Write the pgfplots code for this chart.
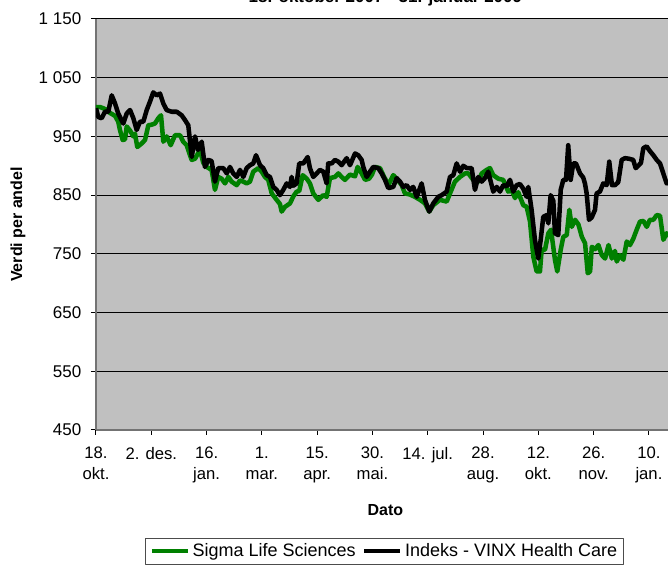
\documentclass[border=0pt]{standalone}
\usepackage{pgfplots}
\pgfplotsset{compat=1.18}
\usepackage{fontspec}
\setmainfont{Liberation Sans}
\definecolor{plotbg}{HTML}{C0C0C0}
\definecolor{sigmagreen}{HTML}{008000}
\begin{document}
\begin{tikzpicture}
\begin{axis}[
  name=ax,
  scale only axis,
  width=429pt, height=308.25pt,
  xmin=0, xmax=465.5, ymin=450, ymax=1150,
  axis lines=left,
  axis line style={-, draw=black!55, line width=1.5pt},
  axis background/.style={fill=plotbg},
  tick align=outside,
  major tick length=3.75pt,
  tick style={black, line width=0.75pt},
  ymajorgrids,
  major grid style={black, line width=0.75pt},
  ytick={450,550,650,750,850,950,1050,1150},
  yticklabels={450,550,650,750,850,950,{1 050},{1 150}},
  xtick={0,45,90,135,180,225,270,315,360,405,450},
  xticklabels={{18.\\okt.},{2. des.},{16.\\jan.},{1.\\mar.},{15.\\apr.},{30.\\mai.},{14. jul.},{28.\\aug.},{12.\\okt.},{26.\\nov.},{10.\\jan.}},
  xticklabel style={align=center, font=\fontsize{12.5}{15.75}\selectfont, yshift=-5.5pt},
  yticklabel style={font=\fontsize{12.75}{15}\selectfont, xshift=-3.75pt},
  xlabel={Dato},
  ylabel={Verdi per andel},
  xlabel style={at={(axis description cs:0.506,0)}, anchor=center, yshift=-60pt, font=\fontsize{12}{14}\selectfont\bfseries},
  ylabel style={at={(axis description cs:-0.1364,0.5)}, anchor=center, font=\fontsize{12}{14}\selectfont\bfseries},
  title={18. oktober 2007 - 31. januar 2009},
  title style={at={(axis description cs:0.506,1)}, anchor=base, yshift=6pt, font=\fontsize{12.75}{15}\selectfont\bfseries},
  legend columns=-1,
  legend style={at={(axis description cs:0.505,0)}, anchor=north, yshift=-81pt,
    draw=black!70, line width=0.75pt, fill=white,
    font=\fontsize{13.5}{16}\selectfont,
    /tikz/every even column/.append style={column sep=3pt},
    inner xsep=3pt, inner ysep=2pt},
  legend image code/.code={\draw[#1, line width=3pt] (0pt,0pt) -- (27pt,0pt);},
  line join=round,
]
\addplot[sigmagreen, line width=3.4pt] coordinates {
(0,1000) (3.3,1000) (5.9,998) (9.0,995) (11.4,990) (15.5,985) (18.1,975) (19.5,961)
(21.7,944) (23.6,945) (25.0,967) (27.7,960) (30.4,950) (31.7,955) (33.6,932) (37.2,938)
(39.9,944) (42.6,969) (45.3,970) (48.0,972) (50.7,981) (52.9,986) (54.8,941) (57.5,950)
(60.8,935) (64.3,952) (68.4,952) (71.0,941) (73.8,935) (76.5,918) (77.9,910) (80.6,912)
(84.6,927) (87.3,905) (90.1,898) (94.1,893) (96.8,859) (99.5,881) (102.2,878) (105.0,870)
(107.7,881) (110.4,873) (114.5,867) (117.2,875) (119.9,873) (122.6,870) (125.3,873) (128.0,890)
(132.1,896) (134.8,890) (137.5,881) (140.2,876) (143.0,853) (147.0,842) (149.7,835) (151.1,822)
(153.8,830) (157.9,836) (160.6,848) (163.3,856) (165.4,857) (168.2,884) (171.5,878) (174.1,870)
(176.8,853) (180.9,842) (185.0,850) (187.7,847) (190.4,879) (194.5,881) (197.2,887) (199.9,881)
(202.6,876) (206.7,885) (210.8,882) (212.9,898) (216.2,887) (219.0,876) (222.2,878) (224.6,885)
(227.0,898) (231.1,896) (233.8,884) (237.9,867) (241.9,884) (244.7,878) (248.8,867) (251.4,853)
(255.5,851) (259.6,847) (263.7,842) (267.7,836) (271.2,822) (274.5,833) (279.9,842) (285.4,839)
(288.1,853) (292.1,873) (296.2,881) (300.3,887) (303.0,887) (307.0,876) (311.1,873) (313.9,887)
(317.9,893) (320.6,896) (323.3,884) (327.4,878) (331.4,876) (335.5,856) (338.2,859) (341.0,845)
(343.6,855) (347.7,833) (350.5,830) (353.2,805) (355.9,745) (358.6,720) (361.3,720) (362.7,757)
(365.4,757) (368.1,785) (370.3,791) (373.5,740) (375.4,720) (378.2,757) (380.3,779) (383.1,782)
(385.2,825) (387.2,796) (389.9,808) (392.6,800) (395.4,779) (398.0,768) (400.2,717) (402.1,720)
(403.5,762) (406.1,758) (408.9,765) (411.6,748) (414.3,742) (417.1,765) (419.8,742) (422.3,755)
(423.8,737) (426.5,748) (429.2,740) (431.9,771) (434.6,765) (437.3,776) (440.0,791) (442.7,805)
(445.5,806) (448.2,796) (450.8,808) (453.6,808) (456.3,816) (459.0,815) (461.7,774) (464.4,785)
(467.1,780)
};
\addlegendentry{Sigma Life Sciences}
\addplot[black, line width=3.4pt] coordinates {
(0,998) (1.9,983) (4.6,981) (7.3,992) (10.0,992) (12.8,1020) (15.5,1006) (18.1,989)
(22.2,972) (25.0,989) (27.7,995) (30.4,981) (33.1,961) (35.8,975) (38.5,975) (41.3,995)
(43.9,1009) (46.6,1025) (49.4,1020) (52.1,1023) (54.8,1006) (57.5,995) (61.6,992) (65.7,992)
(69.7,986) (72.4,978) (75.1,969) (77.9,915) (80.6,950) (83.0,927) (86.0,941) (88.7,898)
(91.4,910) (94.1,908) (96.8,873) (99.5,896) (103.6,896) (106.4,887) (109.0,898) (111.7,887)
(114.5,881) (117.2,893) (119.9,881) (122.6,896) (125.3,901) (128.0,904) (130.2,918) (133.5,901)
(136.1,896) (138.9,884) (141.6,881) (144.3,864) (147.0,859) (149.7,850) (152.4,859) (155.2,870)
(157.9,864) (159.2,881) (160.6,866) (163.3,870) (165.4,904) (168.7,904) (172.3,915) (174.1,896)
(176.8,881) (179.6,887) (182.3,893) (185.0,890) (187.7,870) (189.0,904) (191.8,904) (194.5,910)
(197.2,907) (199.9,901) (204.0,913) (206.7,901) (210.8,921) (213.4,918) (216.2,910) (217.5,898)
(220.3,881) (223.0,890) (225.6,898) (229.7,896) (232.5,887) (235.2,876) (237.9,862) (241.9,864)
(244.7,879) (247.4,873) (250.1,864) (252.8,867) (255.5,859) (258.2,864) (261.0,847) (265.0,870)
(267.7,842) (271.2,822) (274.5,836) (278.5,847) (281.3,850) (285.4,856) (288.1,881) (290.8,884)
(293.5,904) (296.2,890) (298.9,900) (301.7,896) (305.7,896) (308.4,859) (311.1,881) (313.9,873)
(316.5,879) (319.2,890) (323.3,856) (326.1,864) (328.8,856) (331.4,867) (334.2,865) (336.9,876)
(339.6,856) (342.3,867) (345.0,869) (347.7,861) (350.5,847) (351.8,864) (354.5,825) (357.2,774)
(359.9,742) (361.9,774) (364.0,813) (366.8,816) (368.1,802) (370.0,850) (372.2,840) (373.5,785)
(376.2,782) (378.2,859) (380.3,876) (382.5,876) (384.3,935) (386.3,876) (388.4,904) (390.6,904)
(393.9,887) (396.5,880) (397.9,870) (399.3,853) (401.2,808) (403.4,812) (406.1,825) (407.4,853)
(410.1,856) (412.8,870) (415.6,867) (417.7,907) (419.9,867) (422.3,867) (425.0,872) (427.8,910)
(430.5,913) (433.7,912) (437.2,910) (439.2,896) (441.3,900) (443.5,905) (445.4,930) (448.1,933)
(450.8,925) (453.6,918) (456.3,910) (459.0,904) (461.7,887) (464.4,870) (467.1,872)
};
\addlegendentry{Indeks - VINX Health Care}
\end{axis}
\pgfresetboundingbox
\path ([xshift=-72pt,yshift=-102pt]ax.south west) rectangle ([yshift=14.25pt]ax.north east);
\end{tikzpicture}
\end{document}
